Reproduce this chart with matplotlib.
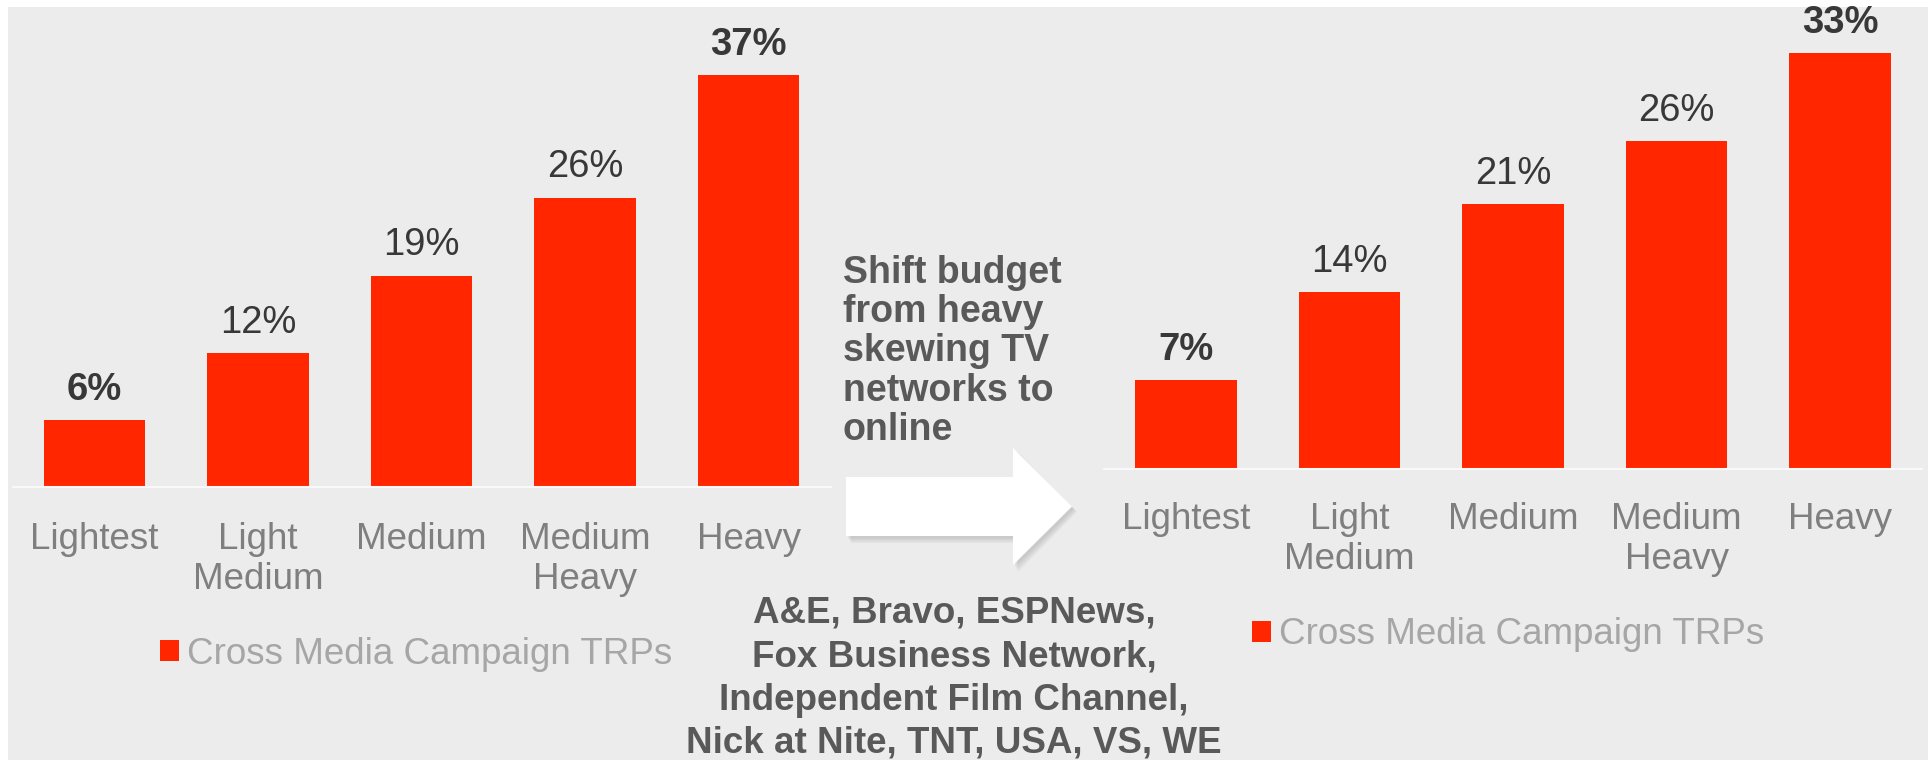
import matplotlib
matplotlib.use('Agg')
import matplotlib.pyplot as plt
from matplotlib.patches import FancyArrow, Rectangle

plt.rcParams['font.family'] = ['Liberation Sans', 'DejaVu Sans']

# viewer segments and share of campaign TRPs, before and after the budget shift
segments = ['Lightest', 'Light\nMedium', 'Medium', 'Medium\nHeavy', 'Heavy']
trp_before = [6, 12, 19, 26, 37]
trp_after = [7, 14, 21, 26, 33]
bold_before = [True, False, False, False, True]
bold_after = [True, False, False, False, True]
series_name = 'Cross Media Campaign TRPs'
shift_note = 'Shift budget\nfrom heavy\nskewing TV\nnetworks to\nonline'
networks = ('A&E, Bravo, ESPNews,\nFox Business Network,\n'
            'Independent Film Channel,\nNick at Nite, TNT, USA, VS, WE')

W, H = 1933, 760
BAR = '#ff2600'
BG = '#ececec'
TEXT_DARK = '#595959'

fig = plt.figure(figsize=(W / 100, H / 100), dpi=100)
fig.patch.set_facecolor('white')
# grey panel, leaving a thin white margin
fig.patches.append(Rectangle((8 / W, 0), 1920 / W, 753 / H, transform=fig.transFigure,
                             facecolor=BG, edgecolor='none', zorder=-10))


def px_axes(left, right, base, top):
    # axes placed in pixel units (top-left origin)
    return fig.add_axes([left / W, (H - base) / H, (right - left) / W, (base - top) / H])


def draw_chart(ax, values, bold, ymax, pad, legend_xy):
    x = list(range(len(values)))
    bars = ax.bar(x, values, width=0.62, color=BAR, label=series_name)
    ax.set_xlim(-0.5, len(values) - 0.5)
    ax.set_ylim(0, ymax)
    for rect, v, b in zip(bars, values, bold):
        ax.annotate(f'{v}%', (rect.get_x() + rect.get_width() / 2, v),
                    xytext=(0, 14.5), textcoords='offset points',
                    ha='center', va='baseline', fontsize=27.5, color='#383838',
                    fontweight='bold' if b else 'normal')
    ax.set_xticks(x)
    ax.set_xticklabels(segments, fontsize=26.5, color='#7f7f7f', va='top')
    ax.tick_params(axis='x', length=0, pad=pad)
    ax.set_yticks([])
    for s in ['top', 'left', 'right']:
        ax.spines[s].set_visible(False)
    ax.spines['bottom'].set_color('#f9f9f9')
    ax.spines['bottom'].set_linewidth(1.5)
    ax.patch.set_alpha(0)
    leg = ax.legend(loc='center left', bbox_to_anchor=legend_xy, bbox_transform=fig.transFigure,
                    frameon=False, fontsize=26.5, handlelength=0.52, handleheight=0.52,
                    handletextpad=0.22, borderpad=0, borderaxespad=0)
    for t in leg.get_texts():
        t.set_color('#a6a6a6')


ax1 = px_axes(12.75, 830.5, 487, 487 - 40 * 11.13)
draw_chart(ax1, trp_before, bold_before, 40, 25.2, (160 / W, (H - 654) / H))

ax2 = px_axes(1104, 1922, 468.5, 468.5 - 36 * 12.6)
draw_chart(ax2, trp_after, bold_after, 36, 24, (1252 / W, (H - 635) / H))

# overlay in pixel coordinates for the arrow and notes
over = fig.add_axes([0, 0, 1, 1])
over.set_xlim(0, W)
over.set_ylim(H, 0)
over.axis('off')

# soft shadow under the arrow
for k in range(4):
    over.add_patch(FancyArrow(848 + k, 509 + k, 226, 0, width=59 + k, head_width=117 + k,
                              head_length=59, length_includes_head=True,
                              facecolor='black', edgecolor='none', alpha=0.035))
over.add_patch(FancyArrow(846, 506.5, 226, 0, width=59, head_width=117, head_length=59,
                          length_includes_head=True, facecolor='white', edgecolor='none'))

# baseline alignment refers to the last line of each block
over.text(843, 440, shift_note, ha='left', va='baseline', fontsize=27,
          fontweight='bold', color=TEXT_DARK, linespacing=1.12)
over.text(954, 753, networks, ha='center', va='baseline', fontsize=26.5,
          fontweight='bold', color=TEXT_DARK, linespacing=1.31)

fig.savefig('out.png', dpi=100)
